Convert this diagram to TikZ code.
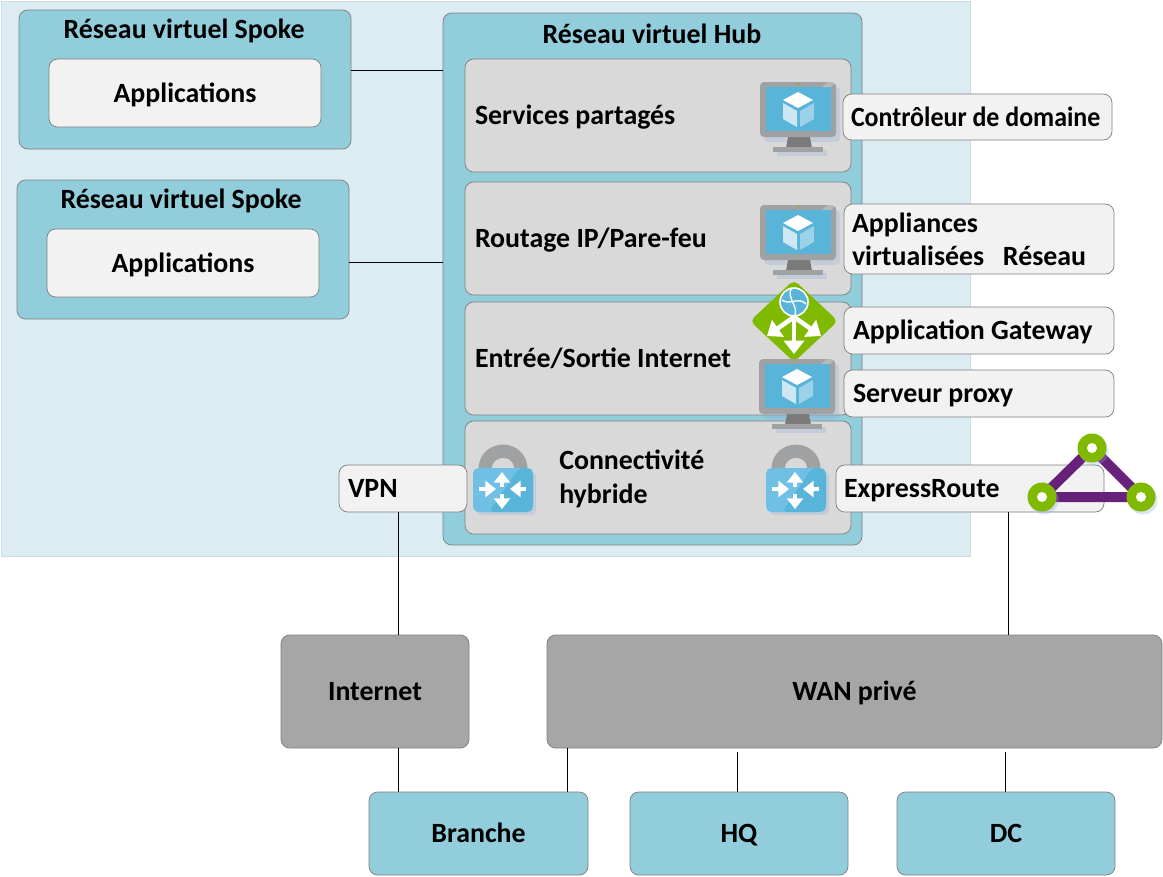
\documentclass[tikz,border=0pt]{standalone}
\usepackage{fontspec}
\usepackage{graphicx}
\setmainfont{Carlito}
\usetikzlibrary{arrows.meta}
\definecolor{bgblue}{HTML}{DBEDF3}
\definecolor{teal}{HTML}{92CDDC}
\definecolor{panel}{HTML}{D9D9D9}
\definecolor{lightbox}{HTML}{F2F2F2}
\definecolor{darkbox}{HTML}{A6A6A6}
\definecolor{edgegrey}{HTML}{7F7F7F}
\definecolor{azure}{HTML}{59B4D9}
\definecolor{azurelight}{HTML}{6FC0E4}
\definecolor{mongrey}{HTML}{A0A1A2}
\definecolor{mondark}{HTML}{7A7A7A}
\definecolor{azgreen}{HTML}{7FBA00}
\definecolor{azpurple}{HTML}{68217A}
\definecolor{halo}{HTML}{8FA8DC}
\newcommand{\bx}[7]{%
  \pgfmathsetmacro{\bxw}{(#4-#2)*0.75}%
  \pgfmathsetmacro{\bxh}{(#5-#3)*0.75}%
  \node[basebox,#6,minimum width=\bxw pt,minimum height=\bxh pt] (#1) at ({(#2+#4)/2},{(#3+#5)/2}) {#7};}
\newcommand{\lbx}[8]{%
  \pgfmathsetmacro{\bxw}{(#4-#2)*0.75}%
  \pgfmathsetmacro{\bxh}{(#5-#3)*0.75}%
  \pgfmathsetmacro{\bxi}{#7*0.75}%
  \pgfmathsetmacro{\bxt}{(#4-#2-2*#7)*0.75}%
  \node[basebox,#6,minimum width=\bxw pt,minimum height=\bxh pt,inner xsep=\bxi pt,align=flush left,text width=\bxt pt] (#1) at ({(#2+#4)/2},{(#3+#5)/2}) {#8};}
\tikzset{
  txt/.style={font=\fontsize{20.9pt}{24.9pt}\selectfont\bfseries,text=black},
  basebox/.style={draw=edgegrey,line width=0.55pt,rounded corners=6.5pt,outer sep=0pt,inner sep=0pt,txt,text height=15pt,text depth=1.5pt},
  twolines/.style={text height=,text depth=},
  vnet/.style={fill=teal},
  appbox/.style={fill=lightbox},
  sharedpanel/.style={fill=panel},
  tagbox/.style={fill=lightbox},
  wanbox/.style={fill=darkbox},
  sitebox/.style={fill=teal},
  title/.style={txt,inner sep=0pt},
  link/.style={draw=black,line width=0.55pt},
  warrow/.style={draw=white,fill=white,line width=3pt,-{Triangle[length=8pt,width=12pt]}},
  warrowb/.style={draw=white,fill=white,line width=3.4pt,-{Triangle[length=10pt,width=15pt]}},
  pics/monitor/.style={code={
    \fill[halo,opacity=.28,rounded corners=3pt] (4,5) rectangle (80,60);
    \fill[halo,opacity=.28] (17,68) rectangle (67,74);
    \fill[mondark] (28,55) -- (50,55) -- (52,66) -- (26,66) -- cycle;
    \fill[mongrey] (13,65) rectangle (63,70);
    \fill[mongrey,rounded corners=3pt] (0,0) rectangle (76,55);
    \fill[white,opacity=.25] (62,5) -- (71,5) -- (76,0) -- (68,0) -- cycle;
    \fill[azure] (6,5) rectangle (71,49);
    \fill[azgreen] (38,2) circle (1);
    \fill[white] (38,10) -- (53,18) -- (38,26) -- (23,18) -- cycle;
    \fill[white,opacity=.7] (23,21) -- (37,29) -- (37,45) -- (23,37) -- cycle;
    \fill[white,opacity=.4] (40,29) -- (54,21) -- (54,37) -- (40,45) -- cycle;
  }},
  pics/lockicon/.style={code={
    \draw[mongrey,line width=10pt] (12,2) .. controls (12,-23) and (48,-23) .. (48,2);
    \fill[halo,opacity=.28,rounded corners=4pt] (3,3) rectangle (63,47);
    \fill[azurelight,rounded corners=4pt] (0,0) rectangle (60,44);
    \fill[azure,rounded corners=4pt] (46,0) -- (56,0) -- (60,4) -- (60,40) -- (56,44) -- (16,44) -- cycle;
    \draw[warrow] (29,19) -- (29,4);
    \draw[warrow] (29,26) -- (29,41);
    \draw[warrow] (6,21) -- (23,21);
    \draw[warrow] (53,21) -- (37,21);
  }},
  pics/gatewayicon/.style={code={
    \fill[azgreen,rounded corners=4pt] (0,-41) -- (44,0) -- (0,41) -- (-44,0) -- cycle;
    \fill[azure] (0,-19) circle (14);
    \draw[white,line width=1.2pt] (0,-19) circle (14);
    \draw[white,line width=1pt] (-12,-21) .. controls (-4,-15) and (4,-25) .. (12,-17);
    \draw[white,line width=1pt] (-3,-32) .. controls (-7,-23) and (4,-15) .. (1,-6);
    \draw[warrowb] (0,-4) -- (0,33);
    \draw[warrowb] (0,-4) -- (-27,15);
    \draw[warrowb] (0,-4) -- (27,15);
  }},
}
\begin{document}
\begin{tikzpicture}[x=0.75pt,y=-0.75pt]
\useasboundingbox (0,0) rectangle (1163,876);
\fill[white] (0,0) rectangle (1163,876);
\filldraw[fill=bgblue,draw=bgblue!85!gray,line width=0.4pt] (1,1) rectangle (970,556);

% Spokes
\bx{spokea}{19}{10}{351}{149}{vnet}{}
\node[title] (spokeatitle) at (184,30.5) {Réseau virtuel Spoke};
\bx{appa}{49}{59}{321}{127}{appbox}{Applications}
\bx{spokeb}{17}{180}{349}{319}{vnet}{}
\node[title] (spokebtitle) at (181,200.5) {Réseau virtuel Spoke};
\bx{appb}{47}{229}{319}{297}{appbox}{Applications}

% Hub
\bx{hub}{443}{13}{862}{545}{vnet}{}
\node[title] (hubtitle) at (652,33.5) {Réseau virtuel Hub};
\lbx{shared}{465}{59}{851}{172}{sharedpanel}{10}{Services partagés}
\lbx{routing}{465}{182}{851}{295}{sharedpanel}{10}{Routage IP/Pare-feu}
\lbx{inet}{465}{302}{851}{415}{sharedpanel}{10}{Entrée/Sortie Internet}
\bx{hybrid}{465}{421}{851}{534}{sharedpanel}{}
\node[title,align=left,anchor=west] (hybridtext) at (559,479) {Connectivité\\[1pt]hybride};

% Links
\draw[link] (spokea.east |- 0,70) -- (hub.west |- 0,70);
\draw[link] (spokeb.east |- 0,262) -- (hub.west |- 0,262);

% Tags
\lbx{dc}{843}{94}{1112}{140}{tagbox}{8}{\scalebox{0.93}[1]{Contrôleur de domaine}}
\lbx{nva}{844}{204}{1114}{274}{tagbox,twolines}{8}{Appliances\\virtualisées\hspace{14pt}Réseau}
\lbx{appgw}{844}{307}{1114}{354}{tagbox}{9}{Application Gateway}
\lbx{proxy}{844}{370}{1114}{417}{tagbox}{9}{Serveur proxy}
\lbx{vpn}{339}{465}{467}{512}{tagbox}{9}{VPN}
\lbx{er}{836}{465}{1104}{512}{tagbox}{8}{ExpressRoute}

% Icons
\pic at (760,82) {monitor};
\pic at (760,205) {monitor};
\pic at (794,321) {gatewayicon};
\pic at (759,359) {monitor};
\pic at (473,468) {lockicon};
\pic at (766,468) {lockicon};

% ExpressRoute triangle
\coordinate (tritop) at (1092,448);
\coordinate (trileft) at (1042,497);
\coordinate (triright) at (1141,497);
\draw[azpurple,line width=7.5pt] (trileft) -- (tritop) -- (triright) -- cycle;
\foreach \c in {tritop,trileft,triright}{
  \fill[halo,opacity=.3] (\c)++(2,3) circle (14.5);
  \fill[azgreen] (\c) circle (14.5);
  \fill[white] (\c) circle (5);
}

% WAN side
\bx{internet}{281}{635}{469}{748}{wanbox}{Internet}
\bx{wan}{547}{635}{1162}{748}{wanbox}{WAN privé}
\bx{branch}{369}{792}{588}{875}{sitebox}{Branche}
\bx{hq}{630}{792}{848}{875}{sitebox}{HQ}
\bx{dcsite}{897}{792}{1115}{875}{sitebox}{DC}

\coordinate (hqup) at (737,752);
\coordinate (dcup) at (1005,752);
\draw[link] (vpn.south -| 398,0) -- (internet.north -| 398,0);
\draw[link] (er.south -| 1008,0) -- (wan.north -| 1008,0);
\draw[link] (internet.south -| 398,0) -- (branch.north -| 398,0);
\draw[link] (wan.south -| 567,0) -- (branch.north -| 567,0);
\draw[link] (hqup) -- (hq.north -| hqup);
\draw[link] (dcup) -- (dcsite.north -| dcup);
\end{tikzpicture}
\end{document}
